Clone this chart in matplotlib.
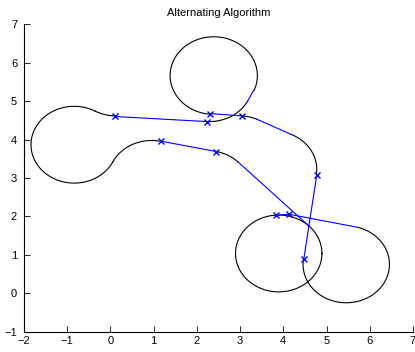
import numpy as np
import matplotlib
matplotlib.use('Agg')
import matplotlib.pyplot as plt

plt.rcParams['font.family'] = ['Liberation Sans', 'DejaVu Sans']

# black arcs: centre x, centre y, radius, start angle, end angle (degrees)
arc_cx = [-0.84, 0.128, 0.951, 2.29, 2.39, 2.2465, 2.974, 3.775, 5.457, 3.894]
arc_cy = [3.865, 5.615, 2.975, 5.467, 5.665, 2.708, 3.618, 3.22, 0.75, 1.034]
arc_r = [1.0, 1.0, 1.0, 1.0, 1.01, 1.0, 1.0, 1.0, 1.0, 1.0]
arc_start = [61.0, 241.0, 153.6, -90.0, -22.0, 78.1, 85.4, 65.9, 172.2, 0.0]
arc_end = [333.6, 268.4, 77.0, -28.0, 265.0, 45.0, 65.9, -7.8, 434.3, 360.0]

# waypoints marked with x
mark_x = [0.099, 2.236, 2.298, 3.054, 4.775, 4.474, 3.833, 4.126, 1.171, 2.452]
mark_y = [4.60, 4.467, 4.676, 4.615, 3.08, 0.885, 2.03, 2.056, 3.956, 3.687]

# straight (blue) segments of the path
seg_x = [[0.099, 2.236], [3.173, 3.317], [2.298, 3.054], [3.382, 4.183],
         [4.775, 4.474], [3.833, 4.126, 5.728], [1.171, 2.452], [2.954, 4.601]]
seg_y = [[4.60, 4.467], [4.998, 5.285], [4.676, 4.615], [4.531, 4.133],
         [3.08, 0.885], [2.03, 2.056, 1.713], [3.956, 3.687], [3.415, 1.741]]

fig = plt.figure(figsize=(4.15, 3.52), dpi=100)
ax = fig.add_axes([0.058, 0.058, 0.937, 0.873])

for cx, cy, r, a0, a1 in zip(arc_cx, arc_cy, arc_r, arc_start, arc_end):
    t = np.radians(np.linspace(a0, a1, 200))
    ax.plot(cx + r * np.cos(t), cy + r * np.sin(t), color='black', lw=0.8)

for sx, sy in zip(seg_x, seg_y):
    ax.plot(sx, sy, color='blue', lw=0.8)

ax.plot(mark_x, mark_y, 'x', color='blue', ms=4, mew=1.0)

ax.set_xlim(-2, 7)
ax.set_ylim(-1, 7)
ax.set_xticks(range(-2, 8))
ax.set_yticks(range(-1, 8))
ax.spines['top'].set_visible(False)
ax.spines['right'].set_visible(False)
ax.tick_params(direction='in', length=4, width=0.6, labelsize=8, pad=3)
ax.tick_params(axis='y', pad=5)
for s in ['left', 'bottom']:
    ax.spines[s].set_linewidth(0.8)
ax.set_title('Alternating Algorithm', fontsize=8, pad=6)

fig.savefig('out.png', dpi=100)
